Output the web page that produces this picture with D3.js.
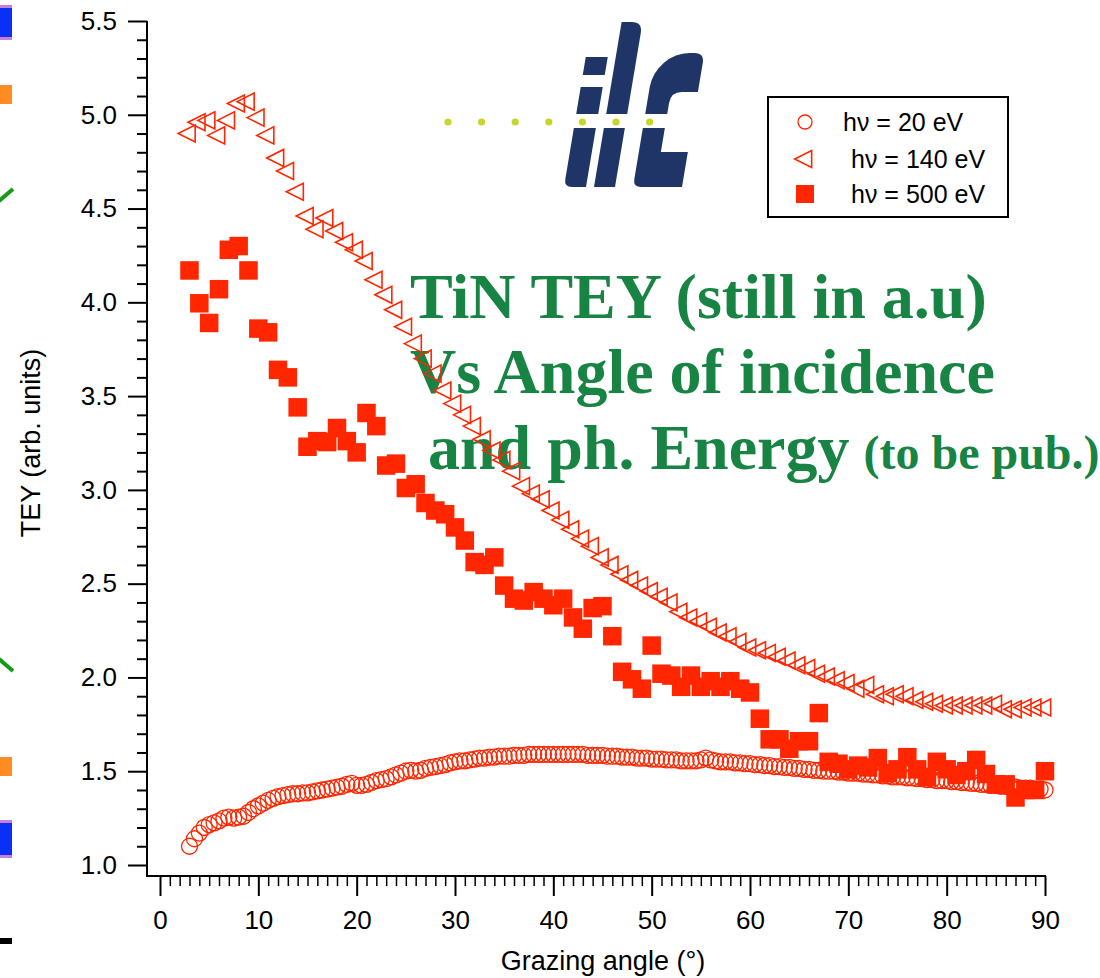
<!DOCTYPE html>
<html>
<head>
<meta charset="utf-8">
<script src="https://cdn.jsdelivr.net/npm/d3@7/dist/d3.min.js"></script>
<style>
  html, body { margin: 0; padding: 0; background: #ffffff; }
  svg { display: block; }
</style>
</head>
<body>
<script>
// ---- data -------------------------------------------------------------
// grazing-angle sampling of the three scans (degrees)
const angleFine = d3.range(3, 90.25, 0.5);   // 20 eV scan, 0.5 deg steps
const angleCoarse = d3.range(3, 90.5, 1);    // 140 / 500 eV scans, 1 deg steps

// TEY, hv = 20 eV
const tey20 = [
  1.10, 1.14, 1.17, 1.20, 1.215, 1.225, 1.235, 1.25, 1.255, 1.25,
  1.255, 1.26, 1.28, 1.30, 1.315, 1.33, 1.345, 1.355, 1.365, 1.37,
  1.375, 1.38, 1.38, 1.385, 1.385, 1.39, 1.395, 1.40, 1.405, 1.41,
  1.415, 1.42, 1.43, 1.435, 1.425, 1.425, 1.43, 1.44, 1.45, 1.455,
  1.46, 1.47, 1.48, 1.49, 1.50, 1.505, 1.50, 1.505, 1.515, 1.52,
  1.525, 1.53, 1.535, 1.545, 1.55, 1.555, 1.555, 1.56, 1.565, 1.57,
  1.57, 1.575, 1.575, 1.58, 1.58, 1.58, 1.585, 1.585, 1.585, 1.59,
  1.59, 1.59, 1.59, 1.59, 1.59, 1.59, 1.59, 1.59, 1.59, 1.59,
  1.59, 1.585, 1.585, 1.585, 1.585, 1.58, 1.58, 1.58, 1.575, 1.575,
  1.575, 1.57, 1.57, 1.57, 1.565, 1.565, 1.565, 1.56, 1.56, 1.56,
  1.555, 1.555, 1.555, 1.555, 1.56, 1.57, 1.56, 1.555, 1.55, 1.55,
  1.55, 1.545, 1.545, 1.54, 1.54, 1.535, 1.535, 1.53, 1.53, 1.525,
  1.525, 1.52, 1.52, 1.515, 1.515, 1.51, 1.51, 1.505, 1.505, 1.50,
  1.50, 1.50, 1.495, 1.495, 1.49, 1.49, 1.49, 1.485, 1.485, 1.48,
  1.48, 1.475, 1.475, 1.47, 1.47, 1.47, 1.465, 1.465, 1.46, 1.46,
  1.455, 1.455, 1.45, 1.45, 1.45, 1.445, 1.445, 1.44, 1.44, 1.435,
  1.435, 1.43, 1.43, 1.425, 1.425, 1.42, 1.42, 1.415, 1.415, 1.41,
  1.41, 1.41, 1.405, 1.405, 1.40
];

// TEY, hv = 140 eV
const tey140 = [
  4.90, 4.96, 4.97, 4.89, 4.97, 5.06, 5.07, 4.985, 4.89, 4.77,
  4.70, 4.59, 4.46, 4.39, 4.45, 4.38, 4.32, 4.28, 4.22, 4.12,
  4.04, 3.96, 3.87, 3.78, 3.70, 3.62, 3.53, 3.46, 3.40, 3.34,
  3.27, 3.21, 3.16, 3.10, 3.02, 2.98, 2.95, 2.89, 2.84, 2.79,
  2.74, 2.70, 2.64, 2.60, 2.55, 2.52, 2.49, 2.46, 2.43, 2.40,
  2.35, 2.32, 2.30, 2.27, 2.24, 2.22, 2.19, 2.16, 2.145, 2.13,
  2.11, 2.09, 2.065, 2.05, 2.02, 2.005, 1.985, 1.97, 1.94, 1.96,
  1.91, 1.90, 1.91, 1.90, 1.88, 1.87, 1.86, 1.85, 1.85, 1.85,
  1.85, 1.85, 1.86, 1.83, 1.83, 1.84, 1.84, 1.84
];

// TEY, hv = 500 eV
const tey500 = [
  4.17, 3.995, 3.89, 4.07, 4.28, 4.30, 4.17, 3.86, 3.84, 3.64,
  3.60, 3.44, 3.23, 3.26, 3.255, 3.33, 3.26, 3.20, 3.41, 3.34,
  3.13, 3.14, 3.01, 3.03, 2.93, 2.89, 2.87, 2.80, 2.73, 2.615,
  2.60, 2.64, 2.49, 2.42, 2.41, 2.455, 2.42, 2.385, 2.42, 2.32,
  2.26, 2.37, 2.38, 2.22, 2.03, 1.99, 1.94, 2.17, 2.02, 2.01,
  1.95, 2.01, 1.95, 1.98, 1.95, 1.98, 1.94, 1.92, 1.78, 1.67,
  1.67, 1.62, 1.66, 1.66, 1.81, 1.55, 1.54, 1.51, 1.53, 1.52,
  1.57, 1.49, 1.51, 1.575, 1.51, 1.47, 1.55, 1.51, 1.48, 1.50,
  1.56, 1.485, 1.43, 1.43, 1.36, 1.40, 1.40, 1.50
];

const xTickValues = [0, 10, 20, 30, 40, 50, 60, 70, 80, 90];
const yTickValues = [1.0, 1.5, 2.0, 2.5, 3.0, 3.5, 4.0, 4.5, 5.0, 5.5];
const legendLabels = ["h\u03bd = 20 eV", "h\u03bd = 140 eV", "h\u03bd = 500 eV"];
const titleLines = ["TiN TEY (still in a.u)", "Vs Angle of incidence", "and ph. Energy"];
const titleNote = "(to be pub.)";
const xTitle = "Grazing angle (\u00b0)";
const yTitle = "TEY (arb. units)";
const logoDots = [0, 1, 2, 3, 4, 5, 6];

// ---- setup ------------------------------------------------------------
const W = 1100, H = 978;
const RED = "#ff2600";
const GREEN = "#188444";
const NAVY = "#1f3567";
const SANS = "Arial, 'Liberation Sans', Helvetica, sans-serif";

const svg = d3.select("body").append("svg")
  .attr("width", W).attr("height", H)
  .style("font-family", SANS);

svg.append("rect").attr("width", W).attr("height", H).attr("fill", "#fff");

const x = d3.scaleLinear().domain([0, 90]).range([160, 1045]);
const y = d3.scaleLinear().domain([1, 5.5]).range([865, 21]);
const axisX0 = 147, axisY0 = 876;

// ---- slide decorations along the left edge ----------------------------
const deco = svg.append("g");
function bar(y0, y1, fill) {
  deco.append("rect").attr("x", 0).attr("y", y0).attr("width", 12).attr("height", y1 - y0).attr("fill", fill);
}
bar(5, 40, "#c77fd8"); bar(8, 37, "#0a30f5");
bar(85, 104, "#ff8c22");
bar(757, 776, "#ff8c22");
bar(820, 858, "#c77fd8"); bar(823, 855, "#0a30f5");
bar(938, 944, "#000");
deco.append("line").attr("x1", -1).attr("y1", 201).attr("x2", 13).attr("y2", 189)
  .attr("stroke", "#149a14").attr("stroke-width", 4);
deco.append("line").attr("x1", -1).attr("y1", 659).attr("x2", 13).attr("y2", 671)
  .attr("stroke", "#149a14").attr("stroke-width", 4);

// ---- ilc logo -----------------------------------------------------------
const logo = svg.append("g");
const letters = logo.append("g")
  .attr("transform", "translate(0,187) skewX(-9.5)")
  .attr("fill", NAVY);
// i : dot and stem
letters.append("rect").attr("x", 564).attr("y", -130).attr("width", 22).attr("height", 18);
letters.append("path").attr("d", "M564,-100 L586,-100 L586,0 L572,0 Q564,0 564,-8 Z");
// l
letters.append("path").attr("d", "M594,0 L594,-165 L604,-165 Q615,-165 615,-154 L615,0 Z");
// c
letters.append("path").attr("d",
  "M641,0 L682,0 L682,-35 L655,-35 L655,-84 Q655,-95 666,-95 L682,-95 L682,-124 " +
  "Q682,-134 672,-134 L667,-134 A34,34 0 0 0 633,-100 L633,-8 Q633,0 641,0 Z");
// horizontal cut carrying the dotted line
logo.append("rect").attr("x", 540).attr("y", 114).attr("width", 170).attr("height", 14).attr("fill", "#fff");
logo.selectAll("circle").data(logoDots).join("circle")
  .attr("cx", d => 448 + d * 33.6).attr("cy", 122).attr("r", 3.6).attr("fill", "#c9d52a");

// ---- green annotation ---------------------------------------------------
const note = svg.append("g")
  .attr("font-family", "'Liberation Serif', 'Times New Roman', Times, serif")
  .attr("font-weight", "bold")
  .attr("fill", GREEN);
const noteX = [410, 410, 428];
const noteY = [318, 393, 469];
titleLines.forEach((t, i) => {
  const tx = note.append("text").attr("x", noteX[i]).attr("y", noteY[i]).attr("font-size", 64).text(t);
  if (i === 2) {
    tx.append("tspan").attr("dx", 14).attr("font-size", 48).text(titleNote);
  }
});

// ---- axes ---------------------------------------------------------------
const axes = svg.append("g").attr("stroke", "#000");
axes.append("line").attr("x1", axisX0).attr("y1", y(5.5)).attr("x2", axisX0).attr("y2", axisY0)
  .attr("stroke-width", 2);
axes.append("line").attr("x1", axisX0 - 1).attr("y1", axisY0).attr("x2", x(90) + 1).attr("y2", axisY0)
  .attr("stroke-width", 2);

const yMinor = d3.range(10, 56).map(v => v / 10).filter(v => !yTickValues.some(t => Math.abs(t - v) < 1e-9));
const xMinor = d3.range(0, 91).filter(v => v % 10 !== 0);

function styleAxis(g) {
  g.select(".domain").remove();
  g.selectAll(".tick line").attr("stroke", "#000").attr("stroke-width", 2);
  g.selectAll(".tick text").attr("fill", "#000").attr("font-size", 26).attr("font-family", SANS);
}

svg.append("g").attr("transform", `translate(${axisX0},0)`)
  .call(d3.axisLeft(y).tickValues(yTickValues).tickSize(19).tickPadding(11).tickFormat(d3.format(".1f")))
  .call(styleAxis);
svg.append("g").attr("transform", `translate(${axisX0},0)`)
  .call(d3.axisLeft(y).tickValues(yMinor).tickSize(10).tickFormat(""))
  .call(styleAxis);

svg.append("g").attr("transform", `translate(0,${axisY0})`)
  .call(d3.axisBottom(x).tickValues(xTickValues).tickSize(20).tickPadding(15).tickFormat(d3.format("d")))
  .call(styleAxis);
svg.append("g").attr("transform", `translate(0,${axisY0})`)
  .call(d3.axisBottom(x).tickValues(xMinor).tickSize(10).tickFormat(""))
  .call(g => { styleAxis(g); g.selectAll(".tick line").attr("stroke-width", 1.5); });

svg.append("text").attr("x", 603).attr("y", 970).attr("text-anchor", "middle")
  .attr("font-size", 27).text(xTitle);
svg.append("text").attr("transform", "translate(40,443) rotate(-90)").attr("text-anchor", "middle")
  .attr("font-size", 27).text(yTitle);

// ---- markers ------------------------------------------------------------
const triW = 17, triH = 17;
const triPath = `M${-2 * triW / 3},0 L${triW / 3},${-triH / 2} L${triW / 3},${triH / 2} Z`;
const sq = 18.5;

const plot = svg.append("g");
plot.append("g").selectAll("circle").data(tey20).join("circle")
  .attr("cx", (d, i) => x(angleFine[i])).attr("cy", d => y(d)).attr("r", 8)
  .attr("fill", "none").attr("stroke", RED).attr("stroke-width", 1.3);

plot.append("g").selectAll("path").data(tey140).join("path")
  .attr("transform", (d, i) => `translate(${x(angleCoarse[i])},${y(d)})`)
  .attr("d", triPath).attr("fill", "none").attr("stroke", RED).attr("stroke-width", 1.6)
  .attr("stroke-linejoin", "miter");

plot.append("g").selectAll("rect").data(tey500).join("rect")
  .attr("x", (d, i) => x(angleCoarse[i]) - sq / 2).attr("y", d => y(d) - sq / 2)
  .attr("width", sq).attr("height", sq).attr("fill", RED);

// ---- legend -------------------------------------------------------------
const lg = svg.append("g");
lg.append("rect").attr("x", 768).attr("y", 97).attr("width", 240).attr("height", 120)
  .attr("fill", "#fff").attr("stroke", "#000").attr("stroke-width", 2);
const rowY = [122, 159, 194];
const rowTextX = [843, 851, 851];
lg.append("circle").attr("cx", 805).attr("cy", rowY[0]).attr("r", 7)
  .attr("fill", "none").attr("stroke", RED).attr("stroke-width", 1.3);
lg.append("path").attr("transform", `translate(806,${rowY[1]})`).attr("d", triPath)
  .attr("fill", "none").attr("stroke", RED).attr("stroke-width", 1.6);
lg.append("rect").attr("x", 796).attr("y", rowY[2] - 9).attr("width", 18).attr("height", 18).attr("fill", RED);
lg.selectAll("text").data(legendLabels).join("text")
  .attr("x", (d, i) => rowTextX[i]).attr("y", (d, i) => rowY[i] + 9)
  .attr("font-size", 25).attr("fill", "#000")
  .text(d => d);
</script>
</body>
</html>
